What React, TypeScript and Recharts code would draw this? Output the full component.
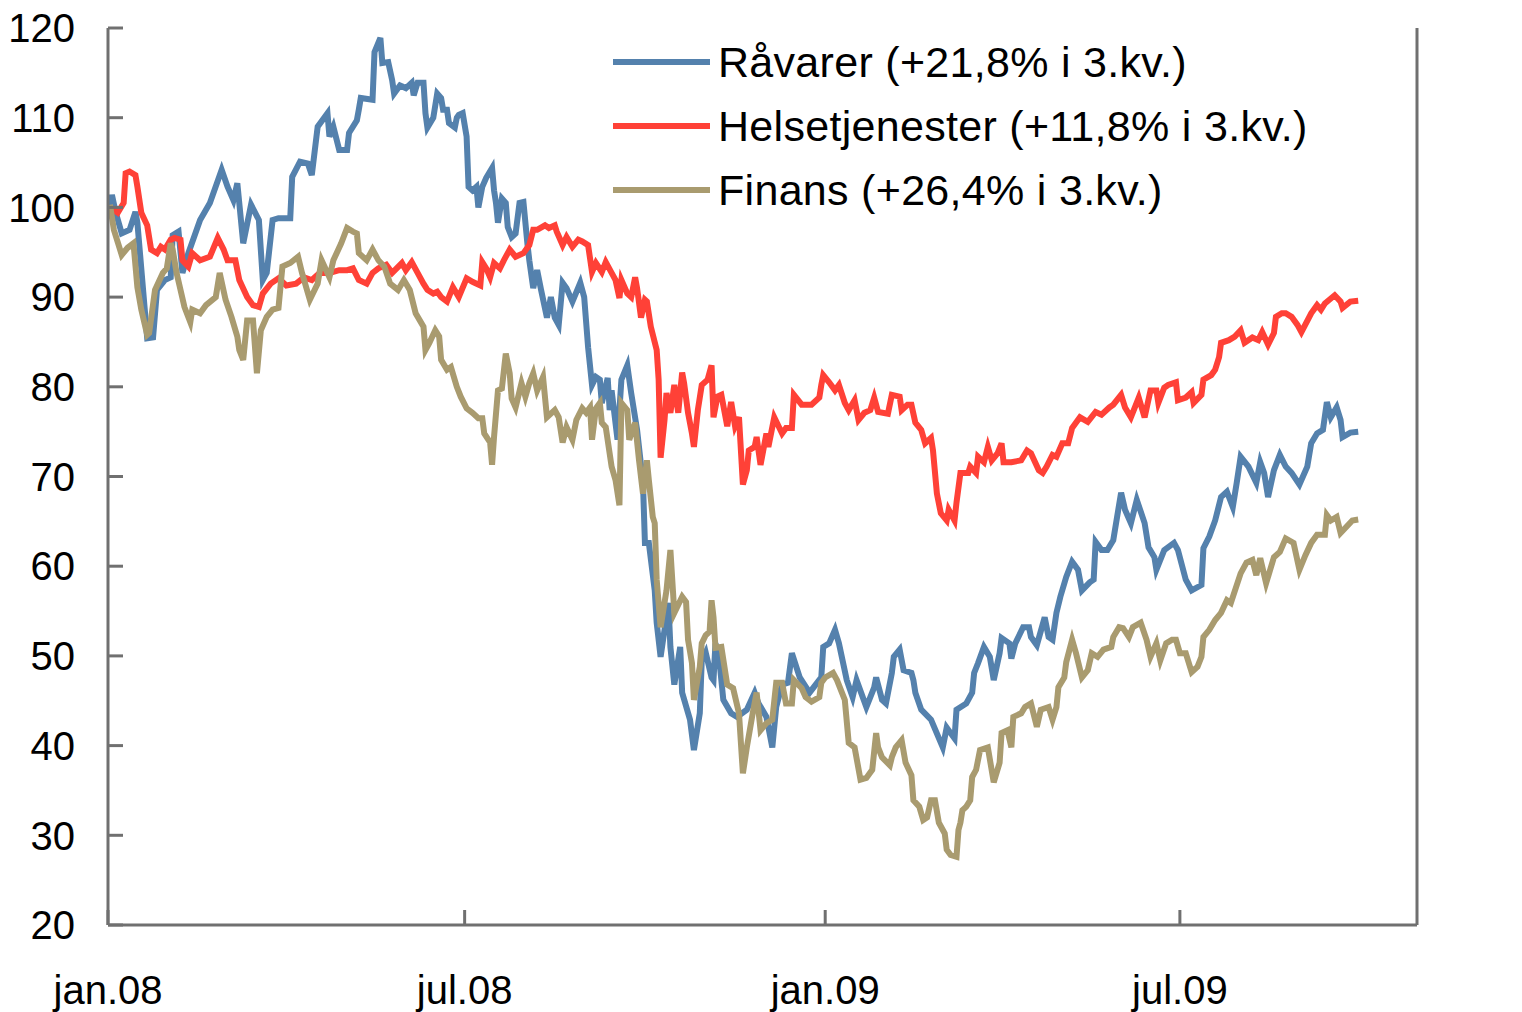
import { LineChart, Line, XAxis, YAxis, Legend } from 'recharts';

// Days counted from 1 Jan 2008
const xTicks = [0, 182, 366, 547];
const xTickLabels = ['jan.08', 'jul.08', 'jan.09', 'jul.09'];
const yTicks = [20, 30, 40, 50, 60, 70, 80, 90, 100, 110, 120];

const seriesNames = ['Råvarer (+21,8% i 3.kv.)', 'Helsetjenester (+11,8% i 3.kv.)', 'Finans (+26,4% i 3.kv.)'];
const seriesColors = ['#5481AD', '#FF4137', '#A99B6F'];

const raavarerDays = [
  1, 2, 4, 7, 11, 14, 15, 20, 23, 25, 29, 32, 33, 36, 38, 41, 47, 52, 58, 61, 64, 66, 69, 73, 77, 79, 81, 84, 87, 93,
  94, 98, 102, 104, 107, 112, 113, 115, 118, 122, 123, 127, 128, 129, 135, 136, 139, 140, 143, 145, 146, 149, 152, 155,
  156, 158, 161, 162, 163, 166, 168, 170, 171, 173, 174, 177, 178, 179, 181, 183, 184, 186, 188, 189, 191, 193, 196,
  197, 198, 199, 201, 203, 204, 206, 208, 210, 212, 214, 215, 217, 219, 221, 224, 226, 228, 230, 232, 234, 237, 241,
  243, 245, 247, 249, 251, 252, 255, 256, 257, 260, 262, 265, 267, 270, 273, 274, 276, 279, 280, 282, 284, 286, 287,
  289, 292, 293, 297, 299, 302, 303, 305, 308, 309, 310, 312, 314, 318, 321, 326, 330, 332, 336, 339, 341, 344, 347,
  349, 353, 358, 364, 365, 368, 371, 373, 377, 380, 382, 387, 391, 392, 395, 397, 400, 401, 404, 406, 410, 411, 412,
  415, 420, 426, 428, 432, 433, 438, 441, 442, 444, 447, 450, 452, 455, 456, 460, 461, 463, 467, 470, 471, 474, 478,
  480, 482, 484, 486, 489, 492, 495, 497, 501, 503, 504, 507, 510, 513, 517, 519, 522, 525, 529, 531, 534, 535, 539,
  544, 546, 550, 553, 558, 559, 562, 565, 568, 571, 574, 576, 578, 582, 586, 588, 590, 592, 595, 598, 601, 604, 608,
  612, 614, 617, 620, 622, 624, 627, 629, 630, 634, 638,
];
const raavarerValues = [
  100, 101.4, 99.4, 97.1, 97.5, 99.5, 98.3, 85.4, 85.5, 90.8, 91.9, 92.2, 96.9, 97.3, 92.7, 94.9, 98.6, 100.5, 104.2,
  102.3, 100.8, 102.7, 96.0, 100.3, 98.6, 91.9, 92.7, 98.6, 98.8, 98.8, 103.4, 105.1, 104.9, 103.6, 109.0, 110.5, 107.9,
  109.0, 106.4, 106.4, 108.3, 109.7, 110.9, 112.2, 112.0, 117.3, 118.9, 116.1, 116.2, 114.2, 112.7, 113.6, 113.3, 113.9,
  112.5, 113.9, 113.9, 110.5, 108.9, 110.0, 112.7, 112.2, 110.9, 110.9, 109.4, 108.9, 110.0, 110.3, 110.5, 107.9, 102.3,
  101.9, 102.3, 100.0, 102.3, 103.3, 104.4, 101.9, 100.5, 98.3, 101.0, 100.5, 97.8, 96.7, 97.1, 100.5, 100.6, 96.0, 94.1,
  91.0, 93.0, 90.8, 87.7, 90.0, 87.7, 86.9, 91.6, 91.0, 89.5, 91.6, 90.0, 84.4, 80.2, 81.1, 80.8, 78.2, 81.0, 77.4, 79.6,
  74.1, 80.8, 82.4, 79.3, 75.2, 69.3, 62.6, 62.6, 57.3, 53.7, 49.9, 52.9, 55.9, 51.0, 46.8, 51.0, 45.9, 42.9, 39.5, 43.6,
  49.5, 50.4, 47.6, 47.3, 51.4, 49.5, 45.1, 43.6, 43.2, 44.0, 45.9, 44.7, 43.2, 39.8, 44.3, 46.8, 47.0, 50.3, 47.6, 45.9,
  47.6, 51.0, 51.4, 52.9, 51.4, 47.3, 45.4, 47.3, 44.3, 46.5, 47.6, 45.1, 44.7, 48.1, 49.9, 50.7, 48.4, 48.1, 47.3, 45.9,
  44.0, 42.9, 39.8, 42.0, 40.8, 44.0, 44.7, 45.9, 48.1, 49.2, 51.0, 49.9, 47.3, 50.3, 52.0, 51.4, 49.7, 51.4, 53.2, 53.2,
  52.1, 51.2, 54.3, 52.1, 51.8, 54.8, 56.6, 58.8, 60.5, 59.6, 57.3, 58.2, 58.5, 62.7, 61.8, 61.8, 62.9, 68.2, 66.3, 64.8,
  67.4, 64.8, 62.1, 61.0, 59.6, 61.8, 62.6, 61.8, 58.5, 57.3, 57.9, 62.0, 63.3, 65.1, 67.7, 68.3, 66.6, 69.3, 72.2, 71.1,
  69.3, 71.6, 70.4, 67.7, 70.7, 72.4, 71.1, 70.4, 69.1, 71.1, 73.7, 74.8, 75.2, 78.3, 76.6, 77.7, 76.3, 74.4, 74.9, 75.0,
];

const helseDays = [
  1, 5, 8, 9, 11, 14, 15, 17, 20, 22, 25, 27, 29, 32, 34, 37, 38, 41, 43, 47, 52, 56, 59, 61, 65, 67, 71, 74, 77, 79,
  83, 87, 91, 96, 100, 104, 108, 113, 118, 122, 125, 128, 132, 135, 138, 142, 145, 150, 152, 155, 158, 161, 163, 166,
  168, 170, 173, 176, 179, 183, 186, 190, 191, 193, 195, 197, 200, 202, 205, 208, 212, 215, 217, 219, 223, 225, 228,
  229, 232, 234, 237, 240, 242, 245, 247, 249, 252, 254, 257, 259, 261, 262, 265, 267, 269, 270, 272, 274, 275, 277,
  280, 281, 282, 284, 285, 287, 289, 291, 293, 294, 296, 298, 299, 301, 303, 306, 308, 309, 311, 313, 316, 318, 320,
  322, 324, 326, 327, 330, 331, 333, 336, 337, 340, 344, 346, 349, 350, 354, 359, 363, 364, 365, 368, 371, 373, 376,
  378, 381, 383, 386, 389, 391, 393, 398, 400, 404, 405, 408, 410, 412, 415, 417, 420, 421, 423, 425, 428, 429, 432,
  433, 435, 439, 440, 443, 444, 447, 449, 451, 454, 456, 457, 461, 466, 469, 471, 475, 477, 479, 482, 484, 487, 490,
  492, 496, 500, 504, 507, 511, 513, 517, 519, 522, 526, 529, 532, 535, 536, 539, 541, 545, 546, 550, 553, 554, 558,
  559, 563, 565, 567, 568, 572, 575, 578, 580, 584, 587, 589, 592, 595, 596, 599, 601, 604, 607, 609, 614, 617, 619,
  621, 626, 629, 630, 634, 638,
];
const helseValues = [
  100, 99.4, 100.5, 103.8, 104.0, 103.6, 102.3, 99.4, 98.0, 95.3, 94.9, 95.6, 95.3, 96.4, 96.6, 96.4, 94.1, 93.4, 94.9,
  94.1, 94.5, 96.6, 95.3, 94.1, 94.1, 91.9, 90.0, 89.1, 88.9, 90.4, 91.5, 92.1, 91.3, 91.5, 92.2, 91.9, 92.7, 92.7,
  93.0, 93.0, 93.2, 91.9, 91.5, 92.7, 93.2, 93.6, 92.7, 93.8, 93.0, 93.9, 92.7, 91.5, 90.8, 90.4, 90.6, 90.0, 89.5,
  91.1, 90.0, 92.1, 91.7, 91.3, 93.9, 93.2, 92.2, 93.8, 93.2, 94.1, 95.3, 94.5, 94.9, 95.8, 97.5, 97.5, 98.0, 97.7,
  98.0, 97.3, 95.8, 96.7, 95.6, 96.4, 96.2, 95.8, 92.8, 93.8, 92.8, 93.9, 92.7, 91.9, 89.9, 91.9, 90.4, 90.0, 92.2,
  91.0, 87.7, 89.7, 89.5, 86.7, 84.1, 80.8, 72.1, 76.3, 79.3, 77.1, 80.2, 77.1, 81.6, 80.4, 77.1, 74.8, 73.3, 77.4,
  80.2, 80.8, 82.4, 76.6, 78.9, 79.1, 75.6, 78.3, 75.6, 76.6, 69.1, 70.7, 72.9, 73.3, 74.4, 71.3, 74.8, 73.3, 76.6,
  74.8, 75.4, 75.4, 79.1, 78.0, 78.0, 78.8, 80.2, 81.3, 80.5, 79.6, 80.2, 78.2, 77.4, 78.5, 76.3, 77.1, 77.4, 78.8,
  77.2, 77.0, 79.1, 78.9, 77.4, 78.0, 78.0, 76.0, 75.2, 73.7, 74.3, 72.9, 68.1, 65.9, 65.1, 66.3, 65.1, 67.1, 70.4,
  70.4, 71.1, 70.4, 72.2, 71.6, 73.3, 71.8, 72.6, 73.7, 71.6, 71.6, 71.8, 72.9, 72.6, 70.7, 70.4, 71.1, 72.4, 72.2,
  73.7, 73.7, 75.4, 76.6, 76.1, 77.2, 76.9, 77.7, 78.0, 79.1, 77.7, 76.6, 78.8, 76.6, 79.6, 79.6, 78.2, 79.9, 80.2,
  80.5, 78.5, 78.8, 79.4, 78.2, 79.1, 80.8, 81.3, 81.9, 83.3, 84.9, 85.2, 85.6, 86.3, 84.9, 85.5, 85.2, 86.1, 84.7,
  86.0, 87.8, 88.2, 88.2, 87.8, 86.9, 86.1, 88.2, 89.1, 88.6, 89.3, 90.2, 89.5, 88.8, 89.5, 89.6,
];

const finansDays = [
  1, 3, 5, 7, 10, 13, 15, 17, 20, 21, 24, 28, 30, 32, 33, 35, 37, 39, 42, 43, 47, 50, 55, 57, 60, 63, 66, 67, 69, 71,
  74, 76, 78, 81, 84, 87, 89, 93, 97, 99, 103, 107, 109, 113, 115, 119, 122, 125, 127, 128, 132, 135, 138, 141, 144,
  148, 151, 154, 157, 161, 162, 164, 167, 169, 170, 173, 175, 178, 180, 183, 186, 189, 191, 192, 195, 196, 197, 199,
  201, 203, 205, 206, 208, 211, 213, 215, 217, 219, 222, 224, 228, 230, 232, 234, 237, 239, 242, 244, 246, 247, 249,
  251, 252, 254, 257, 259, 261, 262, 265, 266, 269, 271, 273, 275, 276, 278, 279, 280, 282, 285, 287, 289, 293, 295,
  296, 298, 299, 302, 303, 305, 307, 308, 309, 310, 313, 316, 319, 322, 324, 326, 329, 331, 333, 336, 339, 341, 344,
  346, 349, 350, 354, 356, 359, 363, 364, 366, 370, 372, 376, 378, 381, 384, 387, 390, 392, 393, 395, 399, 400, 402,
  405, 407, 410, 411, 414, 416, 418, 420, 422, 424, 427, 428, 430, 433, 434, 435, 436, 438, 440, 441, 443, 445, 449,
  452, 455, 456, 459, 461, 462, 466, 468, 471, 474, 476, 480, 482, 484, 485, 488, 489, 492, 494, 497, 500, 502, 505,
  508, 512, 513, 516, 518, 521, 523, 527, 530, 532, 535, 537, 540, 543, 545, 547, 550, 553, 556, 558, 559, 562, 565,
  568, 571, 573, 578, 581, 584, 586, 588, 591, 595, 598, 601, 605, 608, 611, 614, 617, 621, 622, 624, 627, 629, 632,
  635, 638,
];
const finansValues = [
  100.3, 97.5, 96.1, 94.7, 95.5, 96.0, 91.1, 88.6, 85.8, 86.0, 90.8, 92.7, 93.2, 96.0, 95.3, 92.7, 90.8, 88.9, 87.2,
  88.6, 88.2, 89.1, 90.0, 92.7, 89.7, 87.8, 85.6, 84.1, 83.0, 87.4, 87.4, 81.5, 86.3, 87.8, 88.6, 88.8, 93.4, 93.8,
  94.5, 92.7, 89.7, 91.5, 94.1, 92.2, 94.1, 96.0, 97.7, 97.3, 97.1, 94.9, 94.1, 95.3, 94.1, 93.4, 91.5, 90.8, 91.9,
  90.8, 88.2, 86.7, 84.1, 84.9, 86.3, 85.6, 83.0, 81.9, 82.2, 80.0, 78.9, 77.6, 77.1, 76.5, 76.5, 74.8, 73.8, 71.3,
  74.4, 79.6, 79.8, 83.7, 81.5, 78.7, 77.7, 80.4, 78.9, 80.4, 81.5, 79.6, 81.1, 76.6, 77.4, 76.6, 73.8, 75.5, 74.1,
  76.3, 77.6, 77.1, 77.7, 74.1, 77.6, 78.2, 76.0, 75.5, 71.1, 69.6, 66.8, 78.2, 77.4, 74.1, 76.0, 71.8, 68.1, 71.8,
  69.6, 65.5, 64.8, 58.5, 53.2, 57.3, 61.8, 54.8, 56.6, 56.0, 51.8, 49.2, 45.1, 48.8, 51.4, 52.3, 52.7, 56.2, 54.3,
  50.9, 51.0, 46.8, 46.4, 43.6, 36.9, 39.8, 43.6, 45.9, 41.7, 42.5, 42.9, 47.0, 47.0, 44.7, 44.7, 47.3, 46.4, 45.4,
  44.9, 45.4, 47.0, 47.6, 48.1, 47.3, 45.1, 40.3, 39.8, 36.2, 36.4, 37.3, 41.4, 39.8, 38.7, 37.8, 38.7, 39.8, 40.6,
  38.1, 36.7, 33.9, 33.2, 31.7, 32.0, 33.9, 33.9, 31.4, 30.2, 28.4, 27.8, 27.6, 30.6, 31.4, 32.8, 33.2, 33.9, 36.5,
  37.3, 39.5, 39.8, 35.9, 38.1, 41.4, 41.7, 39.8, 43.2, 43.6, 44.3, 44.7, 42.1, 44.0, 44.3, 42.9, 44.3, 46.5, 47.6,
  49.3, 51.8, 50.3, 47.6, 48.4, 50.3, 49.9, 50.7, 51.0, 52.1, 53.2, 53.1, 52.1, 53.2, 53.7, 51.8, 49.9, 51.4, 49.5,
  51.4, 51.8, 51.8, 50.3, 50.3, 48.2, 48.8, 49.9, 52.1, 52.9, 54.0, 54.8, 56.2, 55.9, 59.2, 60.4, 60.7, 59.0, 60.9,
  58.1, 61.0, 61.6, 63.1, 62.6, 59.6, 61.2, 62.6, 63.5, 63.5, 65.7, 65.1, 65.5, 63.7, 64.4, 65.1, 65.2,
];

const toPoints = (days: number[], values: number[]) => days.map((day, i) => ({ day, value: values[i] }));

const series = [
  { name: seriesNames[0], color: seriesColors[0], data: toPoints(raavarerDays, raavarerValues) },
  { name: seriesNames[1], color: seriesColors[1], data: toPoints(helseDays, helseValues) },
  { name: seriesNames[2], color: seriesColors[2], data: toPoints(finansDays, finansValues) },
];

const FONT = '"Liberation Sans", Arial, sans-serif';
const AXIS_GREY = '#707070';
const TICK_LEN = 15;
const FONT_SIZE = 40;

// tick marks point into the plot, so they are drawn together with the label
// (gap = tickMargin, i.e. the distance from the axis line to the label)
const makeTick = (side: 'left' | 'right' | 'bottom', gap: number) => (props: any) => {
  const { x, y, payload } = props;
  const label = side === 'bottom' ? xTickLabels[xTicks.indexOf(payload.value)] : String(payload.value);
  if (side === 'bottom') {
    const axisY = y - gap;
    return (
      <g>
        <line x1={x} x2={x} y1={axisY} y2={axisY - TICK_LEN} stroke={AXIS_GREY} strokeWidth={3} />
        <text x={x} y={y} dy="0.71em" textAnchor="middle" fontSize={FONT_SIZE} fill="#000">
          {label}
        </text>
      </g>
    );
  }
  const dir = side === 'left' ? 1 : -1;
  const axisX = x + dir * gap;
  return (
    <g>
      <line x1={axisX} x2={axisX + dir * TICK_LEN} y1={y} y2={y} stroke={AXIS_GREY} strokeWidth={3} />
      <text x={x} y={y} dy="0.355em" textAnchor={side === 'left' ? 'end' : 'start'} fontSize={FONT_SIZE} fill="#000">
        {label}
      </text>
    </g>
  );
};

const renderLegend = () => (
  <div style={{ fontFamily: FONT }}>
    {series.map((s) => (
      <div key={s.name} style={{ display: 'flex', alignItems: 'center', height: 64 }}>
        <div style={{ width: 97, height: 6, backgroundColor: s.color, marginRight: 8 }} />
        <span style={{ fontSize: 43, color: '#000', whiteSpace: 'nowrap', lineHeight: 1, letterSpacing: 0.3 }}>{s.name}</span>
      </div>
    ))}
  </div>
);

export default function App() {
  return (
    <div style={{ position: 'absolute', left: 0, top: 0, width: 1522, height: 1012, background: '#fff' }}>
      <LineChart width={1522} height={1012} margin={{ top: 28, right: 0, bottom: 0, left: 0 }} style={{ fontFamily: FONT }}>
        <XAxis
          dataKey="day"
          type="number"
          domain={[0, 668]}
          ticks={xTicks}
          height={87}
          tickSize={0}
          tickMargin={51}
          axisLine={{ stroke: AXIS_GREY, strokeWidth: 3 }}
          tickLine={false}
          tick={makeTick('bottom', 51)}
          allowDuplicatedCategory={false}
        />
        <YAxis
          yAxisId="left"
          domain={[20, 120]}
          ticks={yTicks}
          width={108}
          tickSize={0}
          tickMargin={33}
          axisLine={{ stroke: AXIS_GREY, strokeWidth: 3 }}
          tickLine={false}
          tick={makeTick('left', 33)}
        />
        <YAxis
          yAxisId="right"
          orientation="right"
          domain={[20, 120]}
          ticks={yTicks}
          width={105}
          tickSize={0}
          tickMargin={35}
          axisLine={{ stroke: AXIS_GREY, strokeWidth: 3 }}
          tickLine={false}
          tick={makeTick('right', 35)}
        />
        <Legend
          layout="vertical"
          align="center"
          verticalAlign="middle"
          content={renderLegend}
          wrapperStyle={{ top: 30, left: 613, width: 'auto' }}
        />
        {series.map((s) => (
          <Line
            key={s.name}
            yAxisId="left"
            data={s.data}
            dataKey="value"
            name={s.name}
            type="linear"
            stroke={s.color}
            strokeWidth={6}
            dot={false}
            activeDot={false}
            isAnimationActive={false}
          />
        ))}
      </LineChart>
    </div>
  );
}
